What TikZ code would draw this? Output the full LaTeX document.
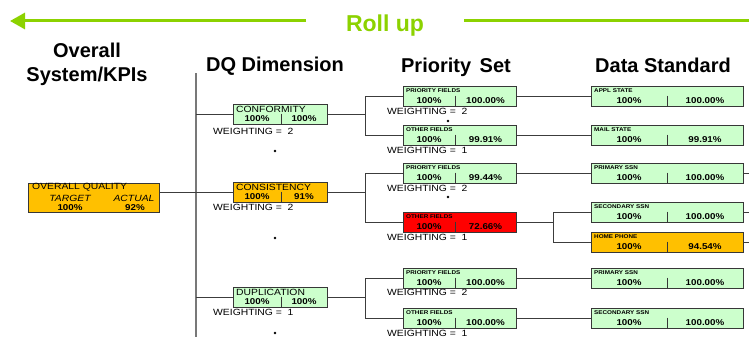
\documentclass[tikz,border=0pt]{standalone}
\usepackage{fontspec}
\setmainfont{Liberation Sans}
\newfontfamily\boxfont[FakeStretch=1.15]{Liberation Sans}
\usetikzlibrary{arrows.meta,calc}
\definecolor{rollgreen}{RGB}{140,210,0}
\definecolor{okgreen}{RGB}{204,255,204}
\definecolor{warnamber}{RGB}{255,192,0}
\definecolor{badred}{RGB}{255,0,0}
\definecolor{boxedge}{RGB}{55,55,55}
\definecolor{linkgrey}{RGB}{60,60,60}
\definecolor{spinegrey}{RGB}{120,120,120}
\newcommand{\dqlab}{\boxfont\fontsize{9}{10}\selectfont}
\newcommand{\smlab}{\boxfont\bfseries\fontsize{5.5}{6}\selectfont}
\newcommand{\valfont}{\boxfont\bfseries\fontsize{8.5}{9}\selectfont}
\newcommand{\headfont}{\bfseries\fontsize{20}{24}\selectfont}
\newcommand{\mkbox}[9]{%
  \node[qbox, fill=#6, minimum width=#4] (#1) at (#2,#3) {};
  \draw[boxedge, line width=0.9pt] ({#2+#5},{#3+9.5}) -- ({#2+#5},{#3+20});
  \node[ltext] (#1-lab) at ({#2+3},{#3+5}) {#7};
  \node[vtext] (#1-a) at ({#2+#5/2},{#3+14.5}) {#8};
  \node[vtext] (#1-b) at ({#2+(#4+#5)/2},{#3+14.5}) {#9};
}
\begin{document}
\begin{tikzpicture}[x=1pt,y=-1pt,
  qbox/.style={draw=boxedge, line width=0.9pt, rectangle, inner sep=0pt, anchor=north west, minimum height=20pt},
  vtext/.style={font=\valfont, inner sep=0pt},
  ltext/.style={inner sep=0pt, anchor=west},
  wtext/.style={font=\dqlab, inner sep=0pt, anchor=west},
  head/.style={font=\headfont, inner sep=0pt, align=center},
  link/.style={draw=linkgrey, line width=0.8pt},
  spine/.style={draw=spinegrey, line width=1.6pt},
  dotmark/.style={circle, fill=black, inner sep=0pt, minimum size=2.6pt},
]
\fill[white] (0,0) rectangle (749,337);
\useasboundingbox (0,0) rectangle (749,337);

% Roll up banner
\coordinate (arrTail) at (306,21);
\coordinate (arrTip) at (10,21);
\coordinate (rollStart) at (464,21);
\coordinate (rollEnd) at (749,21);
\draw[rollgreen, line width=3pt, -{Triangle[length=15pt,width=16pt]}] (arrTail) -- (arrTip);
\node[font=\bfseries\fontsize{23}{26}\selectfont, text=rollgreen, anchor=base, inner sep=0pt] (roll) at (385,32) {Roll up};
\draw[rollgreen, line width=3pt] (rollStart) -- (rollEnd);

% Headers
\node[head] (hOverall) at (87,64.5) {Overall\\System/KPIs};
\node[head, anchor=base] (hDQ) at (275,71) {DQ Dimension};
\node[head, anchor=base] (hPri) at (456,72) {Priority\hspace{3pt} Set};
\node[head, anchor=base] (hData) at (663,72) {Data Standard};

% Overall box
\node[qbox, fill=warnamber, minimum width=131, minimum height=29] (ov) at (28,183) {};
\node[ltext, font=\dqlab] (ov-lab) at (32,187.5) {OVERALL QUALITY};
\node[inner sep=0pt, font=\dqlab\itshape] (ov-t) at (70,198) {TARGET};
\node[inner sep=0pt, font=\dqlab\itshape] (ov-c) at (134,198) {ACTUAL};
\node[vtext] (ov-ta) at (70,207.5) {100\%};
\node[vtext] (ov-aa) at (135,207.5) {92\%};

% DQ dimension boxes
\mkbox{c1}{233}{104}{94}{48}{okgreen}{\dqlab CONFORMITY}{100\%}{100\%}
\mkbox{c2}{233}{182}{94}{48}{warnamber}{\dqlab CONSISTENCY}{100\%}{91\%}
\mkbox{c3}{233}{287}{94}{48}{okgreen}{\dqlab DUPLICATION}{100\%}{100\%}

% Priority set boxes
\mkbox{p1}{403}{86}{113}{52}{okgreen}{\smlab PRIORITY FIELDS}{100\%}{100.00\%}
\mkbox{p2}{403}{125}{113}{52}{okgreen}{\smlab OTHER FIELDS}{100\%}{99.91\%}
\mkbox{p3}{403}{163}{113}{52}{okgreen}{\smlab PRIORITY FIELDS}{100\%}{99.44\%}
\mkbox{p4}{403}{212}{113}{52}{badred}{\smlab OTHER FIELDS}{100\%}{72.66\%}
\mkbox{p5}{403}{268}{113}{52}{okgreen}{\smlab PRIORITY FIELDS}{100\%}{100.00\%}
\mkbox{p6}{403}{308}{113}{52}{okgreen}{\smlab OTHER FIELDS}{100\%}{100.00\%}

% Data standard boxes
\mkbox{d1}{591}{86}{152}{76}{okgreen}{\smlab APPL STATE}{100\%}{100.00\%}
\mkbox{d2}{591}{125}{152}{76}{okgreen}{\smlab MAIL STATE}{100\%}{99.91\%}
\mkbox{d3}{591}{163}{152}{76}{okgreen}{\smlab PRIMARY SSN}{100\%}{100.00\%}
\mkbox{d4}{591}{202}{152}{76}{okgreen}{\smlab SECONDARY SSN}{100\%}{100.00\%}
\mkbox{d5}{591}{232}{152}{76}{warnamber}{\smlab HOME PHONE}{100\%}{94.54\%}
\mkbox{d6}{591}{268}{152}{76}{okgreen}{\smlab PRIMARY SSN}{100\%}{100.00\%}
\mkbox{d7}{591}{308}{152}{76}{okgreen}{\smlab SECONDARY SSN}{100\%}{100.00\%}

% Weighting labels
\node[wtext] (wc1) at (213,131) {WEIGHTING =\ \ 2};
\node[wtext] (wc2) at (213,207.5) {WEIGHTING =\ \ 2};
\node[wtext] (wc3) at (213,312.5) {WEIGHTING =\ \ 1};
\node[wtext] (wp1) at (387,111) {WEIGHTING =\ \ 2};
\node[wtext] (wp2) at (387,150) {WEIGHTING =\ \ 1};
\node[wtext] (wp3) at (387,188) {WEIGHTING =\ \ 2};
\node[wtext] (wp4) at (387,237) {WEIGHTING =\ \ 1};
\node[wtext] (wp5) at (387,292.5) {WEIGHTING =\ \ 2};
\node[wtext] (wp6) at (387,333) {WEIGHTING =\ \ 1};

% Dots
\node[dotmark] (dt1) at (275,151) {};
\node[dotmark] (dt2) at (275,238) {};
\node[dotmark] (dt3) at (275,333) {};
\node[dotmark] (dt4) at (448,121) {};
\node[dotmark] (dt5) at (448,197) {};

% Connectors
\coordinate (spTop) at (196,73);
\coordinate (spBot) at (196,337);
\coordinate (bx) at (365,0);
\coordinate (bxb) at (553,0);
\coordinate (rt) at (749,0);
\draw[spine] (spTop) -- (spBot);
\draw[link] ([yshift=5.5pt]ov.east) -- ([yshift=5.5pt]ov.east -| spTop);
\draw[link] (spTop |- c1.west) -- (c1.west);
\draw[link] (spTop |- c2.west) -- (c2.west);
\draw[link] (spTop |- c3.west) -- (c3.west);

\draw[link] (c1.east) -- (c1.east -| bx);
\draw[link] (c2.east) -- (c2.east -| bx);
\draw[link] (c3.east) -- (c3.east -| bx);
\draw[link] (p1.west) -- (p1.west -| bx) -- (p2.west -| bx) -- (p2.west);
\draw[link] (p3.west) -- (p3.west -| bx) -- (p4.west -| bx) -- (p4.west);
\draw[link] (p5.west) -- (p5.west -| bx) -- (p6.west -| bx) -- (p6.west);

\draw[link] (p1.east) -- (d1.west);
\draw[link] (p2.east) -- (d2.west);
\draw[link] (p3.east) -- (d3.west);
\draw[link] (p4.east) -- (p4.east -| bxb);
\draw[link] (d4.west) -- (d4.west -| bxb) -- (d5.west -| bxb) -- (d5.west);
\draw[link] (p5.east) -- (d6.west);
\draw[link] (p6.east) -- (d7.west);

\draw[link] (d3.east) -- (d3.east -| rt);
\draw[link] (d4.east) -- (d4.east -| rt);
\draw[link] (d5.east) -- (d5.east -| rt);
\end{tikzpicture}
\end{document}
